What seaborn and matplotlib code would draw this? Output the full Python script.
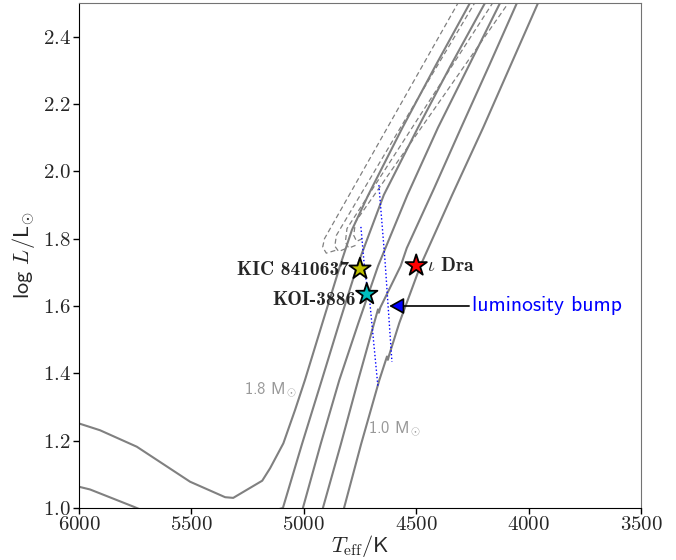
import numpy as np
import pandas as pd
import matplotlib
matplotlib.use("Agg")
import matplotlib.pyplot as plt
import seaborn as sns

# RGB tracks (solid), Teff [K] vs log L/Lsun
teff_10 = [4821, 4745, 4664, 4630, 4626, 4620, 4575, 4481, 4340, 4202, 4080, 3958]
logl_10 = [1.00, 1.19, 1.38, 1.45, 1.44, 1.455, 1.55, 1.72, 1.93, 2.13, 2.315, 2.50]

teff_12 = [4915, 4835, 4758, 4670, 4666, 4660, 4569, 4542, 4420, 4300, 4175, 4052]
logl_12 = [1.00, 1.19, 1.38, 1.59, 1.58, 1.595, 1.719, 1.772, 1.95, 2.13, 2.315, 2.50]

teff_14 = [5004, 4925, 4842, 4757, 4669, 4539, 4403, 4265, 4127]
logl_14 = [1.00, 1.19, 1.38, 1.55, 1.72, 1.93, 2.13, 2.315, 2.50]

teff_16 = [6000, 5951, 5758, 5600, 5400, 5093, 5008, 4920, 4842, 4762, 4644, 4492, 4346, 4194]
logl_16 = [1.063, 1.055, 1.004, 0.96, 0.94, 1.00, 1.19, 1.38, 1.55, 1.72, 1.93, 2.13, 2.315, 2.50]

teff_18 = [6000, 5907, 5743, 5506, 5350, 5314, 5185, 5150, 5091, 5039, 4995, 4917,
           4839, 4786, 4713, 4561, 4413, 4261]
logl_18 = [1.251, 1.231, 1.182, 1.078, 1.032, 1.030, 1.081, 1.118, 1.192, 1.291, 1.380, 1.55,
           1.719, 1.826, 1.93, 2.13, 2.315, 2.50]

# core He burning / AGB tracks (dashed)
teff_he1 = [4860, 4900, 4916, 4908, 4314]
logl_he1 = [1.765, 1.757, 1.775, 1.800, 2.50]
teff_he2 = [4815, 4845, 4862, 4855, 4240]
logl_he2 = [1.770, 1.762, 1.778, 1.810, 2.50]
teff_he3 = [4770, 4800, 4815, 4808, 4160]
logl_he3 = [1.780, 1.772, 1.790, 1.830, 2.50]
teff_he4 = [4740, 4765, 4778, 4770, 4090]
logl_he4 = [1.800, 1.792, 1.810, 1.850, 2.50]

# luminosity bump loci (blue dotted)
bump_a_teff = [4746, 4728, 4706, 4670]
bump_a_logl = [1.835, 1.698, 1.609, 1.359]
bump_b_teff = [4666, 4639, 4608]
bump_b_logl = [1.959, 1.737, 1.434]

# stars
star_names = ["KIC 8410637", "KOI-3886", r"$\iota$ Dra"]
star_teff = [4750, 4720, 4500]
star_logl = [1.71, 1.635, 1.72]
star_colors = ["#bfbf00", "#00bfbf", "#ff0000"]

sns.set_style("ticks")
plt.rcParams["font.family"] = ["cmss10", "DejaVu Sans"]
plt.rcParams["mathtext.fontset"] = "cm"
plt.rcParams["axes.formatter.use_mathtext"] = True

fig, ax = plt.subplots(figsize=(6.76, 5.6), dpi=100)
fig.subplots_adjust(left=0.1169, right=0.9482, bottom=0.0929, top=0.9946)

solid = pd.concat([
    pd.DataFrame({"teff": teff_10, "logl": logl_10, "mass": "1.0"}),
    pd.DataFrame({"teff": teff_12, "logl": logl_12, "mass": "1.2"}),
    pd.DataFrame({"teff": teff_14, "logl": logl_14, "mass": "1.4"}),
    pd.DataFrame({"teff": teff_16, "logl": logl_16, "mass": "1.6"}),
    pd.DataFrame({"teff": teff_18, "logl": logl_18, "mass": "1.8"}),
])
dashed = pd.concat([
    pd.DataFrame({"teff": teff_he1, "logl": logl_he1, "mass": "a"}),
    pd.DataFrame({"teff": teff_he2, "logl": logl_he2, "mass": "b"}),
    pd.DataFrame({"teff": teff_he3, "logl": logl_he3, "mass": "c"}),
    pd.DataFrame({"teff": teff_he4, "logl": logl_he4, "mass": "d"}),
])

sns.lineplot(data=dashed, x="teff", y="logl", units="mass", estimator=None, sort=False,
             color="gray", lw=0.9, ls=(0, (4, 2.5)), ax=ax)
sns.lineplot(data=solid, x="teff", y="logl", units="mass", estimator=None, sort=False,
             color="gray", lw=1.5, ax=ax)

sns.lineplot(x=bump_a_teff, y=bump_a_logl, sort=False, estimator=None,
             color="blue", lw=1.0, ls=":", ax=ax)
sns.lineplot(x=bump_b_teff, y=bump_b_logl, sort=False, estimator=None,
             color="blue", lw=1.0, ls=":", ax=ax)

sns.scatterplot(x=star_teff, y=star_logl, hue=star_names, palette=star_colors,
                marker="*", s=260, edgecolor="black", linewidth=1.3, legend=False,
                zorder=5, ax=ax)

bold = ["cmb10", "DejaVu Serif"]
ax.annotate(star_names[0], xy=(star_teff[0], star_logl[0]), xytext=(-8, -1),
            textcoords="offset points", ha="right", va="center", fontsize=14, family=bold)
ax.annotate(star_names[1], xy=(star_teff[1], star_logl[1]), xytext=(-8, -4),
            textcoords="offset points", ha="right", va="center", fontsize=14, family=bold)
ax.annotate(star_names[2], xy=(star_teff[2], star_logl[2]), xytext=(8, 0),
            textcoords="offset points", ha="left", va="center", fontsize=14, family=bold)

ax.text(5265, 1.353, r"1.8 M$_{\odot}$", color="0.6", fontsize=12, va="center", ha="left")
ax.text(4713, 1.237, r"1.0 M$_{\odot}$", color="0.6", fontsize=12, va="center", ha="left")

ax.annotate("luminosity bump", xy=(4620, 1.60), xytext=(4250, 1.60), color="blue",
            fontsize=15.5, ha="left", va="center",
            arrowprops=dict(arrowstyle="-|>,head_length=0.45,head_width=0.25",
                            mutation_scale=20, fc="blue", ec="black", lw=1.2,
                            shrinkA=0, shrinkB=0))

ax.set_xlim(6000, 3500)
ax.set_ylim(1.0, 2.5)
ax.set_xticks(np.arange(6000, 3499, -500))
ax.set_yticks(np.arange(1.0, 2.41, 0.2))
ax.tick_params(labelsize=15, labelfontfamily="cmr10", length=4, width=1, color="black",
               pad=2)
ax.set_xlabel(r"$T_{\rm eff}$/K", fontsize=16, labelpad=-1)
ax.set_ylabel(r"log $L/\mathsf{L}_{\odot}$", fontsize=16, labelpad=4)

for side in ["left", "bottom"]:
    ax.spines[side].set_color("black")
for side in ["top", "right"]:
    ax.spines[side].set_color("0.45")
    ax.spines[side].set_visible(True)

fig.savefig("out.png", dpi=100)
